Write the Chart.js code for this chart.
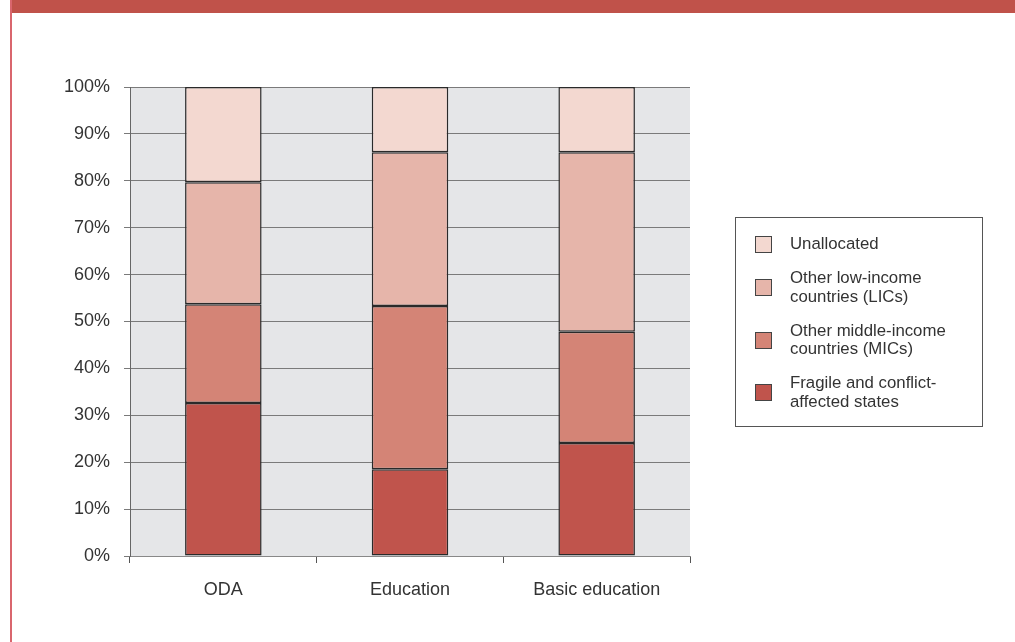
<!DOCTYPE html>
<html>
<head>
<meta charset="utf-8">
<script src="https://cdn.jsdelivr.net/npm/chart.js@4.4.1/dist/chart.umd.min.js"></script>
<style>
  body { margin: 0; background: #fff; font-family: "Liberation Sans", Arial, sans-serif; }
  #wrap { position: relative; width: 1015px; height: 642px; overflow: hidden; }
  #topband { position: absolute; left: 10px; top: 0; width: 1005px; height: 13px; background: #c0524a; }
  #leftline { position: absolute; left: 10px; top: 0; width: 2px; height: 642px; background: #d9666d; }
  #chart { position: absolute; left: 0; top: 0; }
  #legend { position: absolute; left: 735px; top: 217px; width: 248px; height: 210px;
    border: 1px solid #555; box-sizing: border-box; padding-top: 17px; }
  .item { display: flex; align-items: center; margin-bottom: 15.5px; font-size: 16.8px; line-height: 18.5px; color: #333; }
  .sw { width: 15px; height: 15px; border: 1px solid #444; margin-left: 19px; margin-right: 18px; flex: none; }
</style>
</head>
<body>
<div id="wrap">
  <canvas id="chart" width="1015" height="642"></canvas>
  <div id="topband"></div>
  <div id="leftline"></div>
  <div id="legend"></div>
</div>
<script>
const categories = ['ODA', 'Education', 'Basic education'];
const seriesNames = [
  ['Fragile and conflict-', 'affected states'],
  ['Other middle-income', 'countries (MICs)'],
  ['Other low-income', 'countries (LICs)'],
  ['Unallocated']
];
const fragile = [32.6, 18.5, 24.1];
const otherMics = [21.1, 34.8, 23.7];
const otherLics = [26.0, 32.8, 38.3];
const unallocated = [20.3, 13.9, 13.9];
const seriesColors = ['#c0544c', '#d48476', '#e6b5aa', '#f3d8d0'];
const yTicks = [0, 10, 20, 30, 40, 50, 60, 70, 80, 90, 100];

const seriesValues = [fragile, otherMics, otherLics, unallocated];

const plotBg = {
  id: 'plotBg',
  beforeDraw(chart) {
    const a = chart.chartArea;
    const ctx = chart.ctx;
    ctx.save();
    ctx.fillStyle = '#e5e6e8';
    ctx.fillRect(a.left, a.top, a.right - a.left, a.bottom - a.top);
    ctx.restore();
  }
};

const ctx = document.getElementById('chart').getContext('2d');
new Chart(ctx, {
  type: 'bar',
  data: {
    labels: categories,
    datasets: seriesValues.map((vals, i) => ({
      label: seriesNames[i].join(' '),
      data: vals,
      backgroundColor: seriesColors[i],
      borderColor: '#2a2a2a',
      borderWidth: 1.5,
      borderSkipped: false,
      barPercentage: 0.41,
      categoryPercentage: 1
    }))
  },
  options: {
    responsive: false,
    animation: false,
    layout: { padding: { left: 0, right: 325, top: 87, bottom: 0 } },
    plugins: { legend: { display: false }, tooltip: { enabled: false } },
    scales: {
      x: {
        stacked: true,
        afterFit(scale) { scale.height = 86; },
        grid: { offset: true, drawOnChartArea: false, drawTicks: true, tickLength: 7, color: '#555' },
        border: { color: '#888', width: 1 },
        ticks: { color: '#333', font: { size: 18, family: '"Liberation Sans", Arial' }, padding: 16 }
      },
      y: {
        stacked: true,
        min: 0,
        max: 100,
        afterFit(scale) { scale.width = 130; },
        afterBuildTicks(scale) { scale.ticks = yTicks.map(v => ({ value: v })); },
        grid: { color: '#7a7a7a', lineWidth: 1, tickLength: 6 },
        border: { color: '#666', width: 1 },
        ticks: {
          color: '#333',
          padding: 14,
          font: { size: 18, family: '"Liberation Sans", Arial' },
          callback: v => v + '%'
        }
      }
    }
  },
  plugins: [plotBg]
});

// legend, top item first
const legend = document.getElementById('legend');
for (let i = seriesNames.length - 1; i >= 0; i--) {
  const item = document.createElement('div');
  item.className = 'item';
  const sw = document.createElement('div');
  sw.className = 'sw';
  sw.style.background = seriesColors[i];
  const txt = document.createElement('div');
  txt.innerHTML = seriesNames[i].join('<br>');
  item.appendChild(sw);
  item.appendChild(txt);
  legend.appendChild(item);
}
</script>
</body>
</html>
